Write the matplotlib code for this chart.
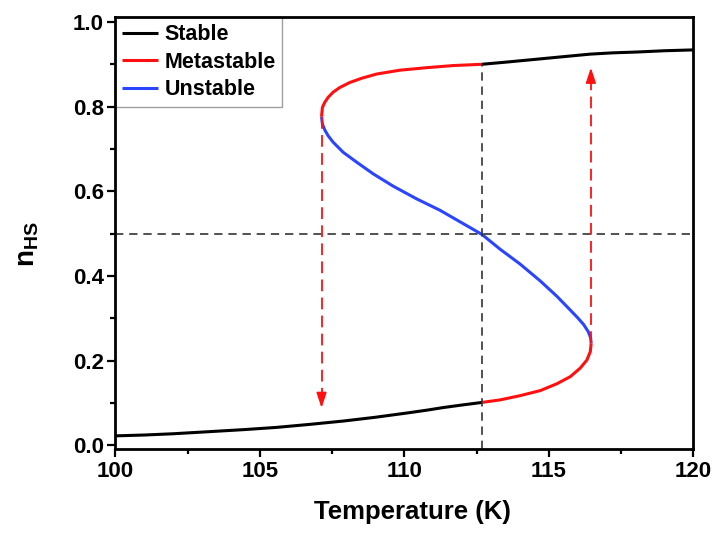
import matplotlib
matplotlib.use("Agg")
import matplotlib.pyplot as plt

plt.rcParams['font.family'] = ['Liberation Sans', 'DejaVu Sans']
plt.rcParams['font.weight'] = 'bold'
plt.rcParams['mathtext.fontset'] = 'custom'
plt.rcParams['mathtext.bf'] = 'Liberation Sans:bold'
plt.rcParams['mathtext.rm'] = 'Liberation Sans:bold'

# ---- data (T in K, n_HS) ----
stable_low_T = [100.0, 101.0, 102.0, 103.26, 104.5, 105.57, 106.7, 107.88, 109.0, 110.19,
                110.8, 111.35, 112.0, 112.68]
stable_low_n = [0.022, 0.024, 0.027, 0.032, 0.037, 0.042, 0.049, 0.057, 0.066, 0.077,
                0.083, 0.089, 0.095, 0.101]

meta_low_T = [112.68, 113.31, 114.0, 114.7, 115.27, 115.74, 116.08, 116.31, 116.43, 116.46]
meta_low_n = [0.101, 0.107, 0.117, 0.129, 0.145, 0.162, 0.182, 0.201, 0.221, 0.241]

unstable_T = [116.46, 116.44, 116.36, 116.2, 115.98, 115.74, 115.27, 114.7, 114.0, 113.31, 112.68,
              111.23, 110.42, 109.61, 108.92, 108.34, 107.88, 107.53, 107.36, 107.24, 107.16, 107.13]
unstable_n = [0.241, 0.254, 0.268, 0.285, 0.302, 0.319, 0.352, 0.388, 0.428, 0.463, 0.498,
              0.555, 0.582, 0.612, 0.641, 0.669, 0.692, 0.716, 0.731, 0.745, 0.759, 0.776]

meta_high_T = [107.13, 107.16, 107.24, 107.36, 107.53, 107.76, 108.11, 108.52, 109.04,
               109.84, 110.77, 111.69, 112.68]
meta_high_n = [0.776, 0.798, 0.810, 0.822, 0.834, 0.845, 0.857, 0.867, 0.877,
               0.886, 0.892, 0.897, 0.900]

stable_high_T = [112.68, 113.5, 114.58, 115.5, 116.43, 117.2, 118.05, 119.0, 120.0]
stable_high_n = [0.900, 0.905, 0.912, 0.918, 0.924, 0.927, 0.929, 0.932, 0.934]

T_half = 112.68
n_half = 0.5
cool_T, cool_n_from, cool_n_to = 107.13, 0.776, 0.088
heat_T, heat_n_from, heat_n_to = 116.45, 0.241, 0.892

x_ticks = [100, 105, 110, 115, 120]
y_ticks = [0.0, 0.2, 0.4, 0.6, 0.8, 1.0]

BLACK = '#000000'
RED = '#ff1010'
BLUE = '#2a45ff'
DASH = '#333333'

fig = plt.figure(figsize=(7.15, 5.34), dpi=100)
ax = fig.add_axes([0.1615, 0.1592, 0.8084, 0.8084])

lw = 2.2
kw = dict(lw=lw, zorder=3, solid_capstyle='butt', solid_joinstyle='round')
ax.plot(stable_low_T, stable_low_n, color=BLACK, label='Stable', **kw)
ax.plot(meta_low_T, meta_low_n, color=RED, label='Metastable', **kw)
ax.plot(unstable_T, unstable_n, color=BLUE, label='Unstable', **kw)
ax.plot(meta_high_T, meta_high_n, color=RED, **kw)
ax.plot(stable_high_T, stable_high_n, color=BLACK, **kw)

ylo, yhi = -0.009, 1.011
# dashed guide lines
ax.plot([100, 120], [n_half, n_half], color=DASH, lw=1.2, dashes=(5, 3.5), zorder=4)
ax.plot([T_half, T_half], [ylo, stable_high_n[0]], color=DASH, lw=1.2, dashes=(5, 3.5), zorder=4)

# red dashed arrows
head = 0.03
ax.plot([cool_T, cool_T], [cool_n_from, cool_n_to + head], color=RED, lw=1.3, dashes=(6.5, 3.5), zorder=4)
ax.annotate('', xy=(cool_T, cool_n_to), xytext=(cool_T, cool_n_to + head),
            arrowprops=dict(arrowstyle='-|>,head_length=0.9,head_width=0.3', color=RED, lw=1.3,
                            shrinkA=0, shrinkB=0), zorder=5)
ax.plot([heat_T, heat_T], [heat_n_from, heat_n_to - head], color=RED, lw=1.3, dashes=(6.5, 3.5), zorder=4)
ax.annotate('', xy=(heat_T, heat_n_to), xytext=(heat_T, heat_n_to - head),
            arrowprops=dict(arrowstyle='-|>,head_length=0.9,head_width=0.3', color=RED, lw=1.3,
                            shrinkA=0, shrinkB=0), zorder=5)

ax.set_xlim(100, 120)
ax.set_ylim(ylo, yhi)
ax.set_xticks(x_ticks)
ax.set_xticklabels([str(v) for v in x_ticks])
ax.set_yticks(y_ticks)
ax.set_yticklabels(['%.1f' % v for v in y_ticks])
ax.set_xticks([102.5, 107.5, 112.5, 117.5], minor=True)
ax.set_yticks([0.1, 0.3, 0.5, 0.7, 0.9], minor=True)

for s in ax.spines.values():
    s.set_linewidth(2.0)
    s.set_zorder(7)
ax.tick_params(which='major', direction='out', length=5.5, width=1.6, labelsize=16, pad=3)
ax.tick_params(which='minor', direction='out', length=3.5, width=1.6)
for lab in ax.get_xticklabels() + ax.get_yticklabels():
    lab.set_fontweight('bold')

ax.set_xlabel('Temperature (K)', fontsize=18.5, fontweight='bold')
ax.xaxis.label.set_va('center')
ax.xaxis.set_label_coords(0.514, -0.145)
ax.set_ylabel(r'$\mathbf{n}_{\mathbf{HS}}$', fontsize=20)
ax.yaxis.label.set_va('center')
ax.yaxis.set_label_coords(-0.152, 0.475)

leg = ax.legend(loc='upper left', bbox_to_anchor=(0.0, 1.0), borderaxespad=0, frameon=True,
                fancybox=False, edgecolor='#888888', prop={'weight': 'bold', 'size': 15.5},
                handlelength=1.65, handletextpad=0.3, labelspacing=0.3, borderpad=0.32)
leg.get_frame().set_linewidth(1.0)
leg.set_zorder(6)

fig.savefig('out.png', dpi=100)
